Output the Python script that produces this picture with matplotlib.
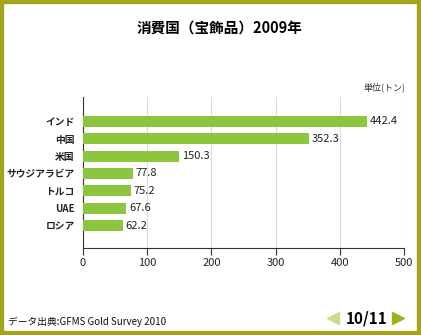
import matplotlib.pyplot as plt
from matplotlib.lines import Line2D
from matplotlib.patches import Rectangle

plt.rcParams['font.family'] = ['Noto Sans CJK JP', 'DejaVu Sans']

countries = ['インド', '中国', '米国', 'サウジアラビア', 'トルコ', 'UAE', 'ロシア']
values = [442.4, 352.3, 150.3, 77.8, 75.2, 67.6, 62.2]
xticks = [0, 100, 200, 300, 400, 500]

border = '#a4a41c'
green = '#8cc63f'

fig = plt.figure(figsize=(4.21, 3.35), dpi=100)
fig.patch.set_facecolor('white')
fig.add_artist(Rectangle((0, 0), 1, 1, transform=fig.transFigure,
                         fill=False, edgecolor=border, linewidth=6))

ax = fig.add_axes([0.197, 0.26, 0.763, 0.45])
ypos = list(range(len(countries)))
ax.barh(ypos, values, height=0.63, color=green, zorder=3)
for y, v in zip(ypos, values):
    ax.text(v + 4, y, f'{v:.1f}', va='center', ha='left', fontsize=8, color='#222222')

ax.set_xlim(0, 500)
ax.set_ylim(6 + 1.26, -1.37)
ax.set_yticks(ypos)
ax.set_yticklabels(countries, fontsize=7, fontweight='bold', color='#222222',
                   family=['Noto Sans CJK SC', 'DejaVu Sans'])
ax.set_xticks(xticks)
ax.set_xticklabels([str(t) for t in xticks], fontsize=8, color='#222222')
ax.tick_params(axis='y', length=0, pad=6)
ax.tick_params(axis='x', length=5, width=0.8, color='#333333', pad=2)
ax.grid(axis='x', color='#dddddd', linewidth=0.8, zorder=0)
for s in ['top', 'right']:
    ax.spines[s].set_visible(False)
ax.spines['left'].set_color('#333333')
ax.spines['bottom'].set_color('#333333')
ax.spines['left'].set_linewidth(0.8)
ax.spines['bottom'].set_linewidth(0.8)

fig.text(0.522, 0.918, '消費国（宝飾品）2009年', ha='center', va='center',
         fontsize=10.5, fontweight='bold')
fig.text(0.962, 0.74, '単位(トン)', ha='right', va='center', fontsize=6.5, color='#333333')
fig.text(0.02, 0.04, 'データ出典:GFMS Gold Survey 2010', ha='left', va='center',
         fontsize=7, color='#111111')
fig.text(0.87, 0.05, '10/11', ha='center', va='center', fontsize=11, fontweight='bold')
fig.add_artist(Line2D([0.79], [0.05], marker='<', markersize=8, color='#c8dc8c',
                      transform=fig.transFigure))
fig.add_artist(Line2D([0.945], [0.05], marker='>', markersize=8, color='#a0b020',
                      transform=fig.transFigure))

fig.savefig('out.png', dpi=100)
